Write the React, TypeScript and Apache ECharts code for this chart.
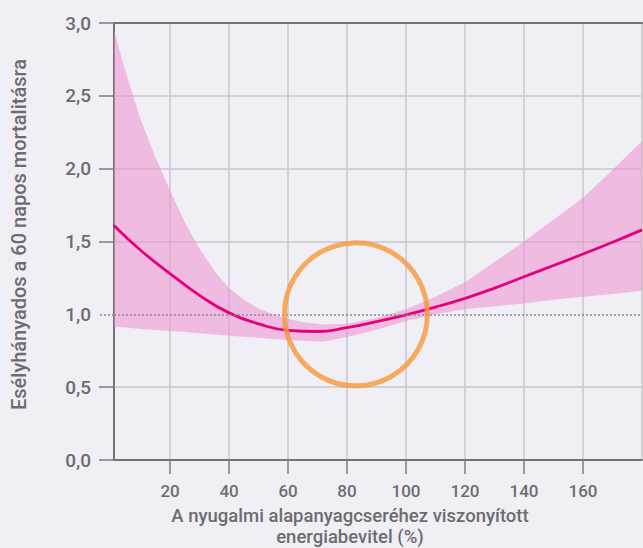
import React, { useEffect, useRef } from "react";
import * as echarts from "echarts";

// Confidence band (odds ratio) sampled along the x axis
const bandX = [1, 5, 10, 15, 20, 25, 30, 35, 40, 45, 50, 55, 60, 65, 72, 80, 90, 100, 110, 120, 130, 140, 150, 160, 170, 180];
const bandLower = [0.915, 0.91, 0.9, 0.893, 0.886, 0.878, 0.87, 0.862, 0.853, 0.846, 0.839, 0.831, 0.824, 0.818, 0.812, 0.845, 0.895, 0.955, 1.0, 1.035, 1.055, 1.075, 1.1, 1.12, 1.14, 1.162];
const bandUpper = [2.95, 2.66, 2.34, 2.08, 1.85, 1.63, 1.45, 1.3, 1.18, 1.1, 1.04, 1.0, 0.97, 0.945, 0.93, 0.935, 0.975, 1.035, 1.12, 1.22, 1.36, 1.5, 1.65, 1.8, 1.99, 2.19];

// Main estimate curve
const lineX = [1, 10, 20, 30, 40, 50, 60, 70, 80, 90, 100, 110, 120, 130, 140, 150, 160, 170, 180];
const lineY = [1.61, 1.44, 1.28, 1.13, 1.01, 0.935, 0.89, 0.882, 0.908, 0.95, 0.997, 1.05, 1.11, 1.18, 1.258, 1.335, 1.414, 1.495, 1.58];

const xTicks = [20, 40, 60, 80, 100, 120, 140, 160];
const yLabelTicks = [0, 0.5, 1, 1.5, 2, 2.5, 3];
const ySolidTicks = [0, 0.5, 1.5, 2, 2.5, 3];
const referenceValue = 1.0;
const highlightPoint = [83, 1.0];

const xAxisTitle = "A nyugalmi alapanyagcseréhez viszonyított\nenergiabevitel (%)";
const yAxisTitle = "Esélyhányados a 60 napos mortalitásra";

const BG = "#f1eff6";
const AXIS = "#737377";
const TICK = "#7c7c80";
const GRID = "#c9c7cd";
const TEXT = "#6c6c70";
const FONT = "Roboto";

export default function App() {
  const ref = useRef<HTMLDivElement>(null);

  useEffect(() => {
    if (!ref.current) return;
    const chart = echarts.init(ref.current, undefined, { renderer: "svg" });

    const lineData = lineX.map((x, i) => [x, lineY[i]]);

    const bandRender = (params: any, api: any) => {
      const upperPts = bandX.map((x, i) => api.coord([x, bandUpper[i]]));
      const lowerPts = bandX
        .map((x, i) => api.coord([x, bandLower[i]]))
        .reverse();
      return {
        type: "polygon",
        shape: { points: upperPts.concat(lowerPts) },
        style: { fill: "rgba(238,140,205,0.52)" },
        silent: true,
      };
    };

    chart.setOption({
      animation: false,
      backgroundColor: BG,
      grid: {
        left: 114,
        right: 1,
        top: 23,
        bottom: 88,
        containLabel: false,
        outerBoundsMode: "none",
      },
      xAxis: [
        {
          type: "value",
          min: 1,
          max: 180,
          position: "bottom",
          name: xAxisTitle,
          nameLocation: "middle",
          nameGap: 45,
          nameTextStyle: {
            color: TEXT,
            fontFamily: FONT,
            fontWeight: 500,
            fontSize: 18.5,
            lineHeight: 21,
            padding: [0, 56, 0, 0],
          },
          axisLine: { show: true, onZero: false, lineStyle: { color: AXIS, width: 2 } },
          axisTick: {
            show: true,
            length: 14,
            customValues: xTicks,
            lineStyle: { color: TICK, width: 1.5 },
          },
          axisLabel: {
            show: true,
            customValues: xTicks,
            margin: 22,
            color: TEXT,
            fontFamily: FONT,
            fontWeight: 500,
            fontSize: 17,
          },
          splitLine: { show: true, lineStyle: { color: GRID, width: 1.5 } },
        },
        {
          type: "value",
          min: 1,
          max: 180,
          position: "top",
          axisLine: { show: true, onZero: false, lineStyle: { color: AXIS, width: 2 } },
          axisTick: { show: false, customValues: [180] },
          axisLabel: { show: false },
          splitLine: { show: true, lineStyle: { color: GRID, width: 1.5 } },
        },
      ],
      yAxis: [
        {
          type: "value",
          min: 0,
          max: 3,
          interval: 0.5,
          position: "left",
          name: yAxisTitle,
          nameLocation: "middle",
          nameGap: 85,
          nameTextStyle: {
            color: TEXT,
            fontFamily: FONT,
            fontWeight: 500,
            fontSize: 20,
            padding: [0, 0, 0, 14],
          },
          axisLine: { show: true, onZero: false, lineStyle: { color: AXIS, width: 2 } },
          axisTick: {
            show: true,
            length: 15,
            customValues: ySolidTicks,
            lineStyle: { color: TICK, width: 1.5 },
          },
          axisLabel: {
            show: true,
            customValues: yLabelTicks,
            margin: 23,
            color: TEXT,
            fontFamily: FONT,
            fontWeight: 500,
            fontSize: 19,
            formatter: (v: number) => v.toFixed(1).replace(".", ","),
          },
          splitLine: { show: true, lineStyle: { color: GRID, width: 1.5 } },
        },
        {
          type: "value",
          min: 0,
          max: 3,
          interval: 0.5,
          position: "left",
          axisLine: { show: false },
          axisTick: {
            show: true,
            length: 15,
            customValues: [referenceValue],
            lineStyle: { color: "#8b8b8f", width: 1.5, type: [2, 2] },
          },
          axisLabel: { show: false },
          splitLine: { show: false },
        },
      ],
      series: [
        {
          type: "custom",
          renderItem: bandRender,
          data: [[bandX[0], bandLower[0]]],
          silent: true,
          z: 2,
          markLine: {
            silent: true,
            symbol: "none",
            label: { show: false },
            lineStyle: { color: "#8b8b8f", width: 1.5, type: [2, 2] },
            data: [{ yAxis: referenceValue }],
          },
        },
        {
          type: "line",
          data: lineData,
          smooth: true,
          symbol: "none",
          silent: true,
          lineStyle: { color: "#e5007e", width: 2.8 },
          z: 3,
        },
        {
          type: "scatter",
          data: [highlightPoint],
          symbol: "circle",
          symbolSize: 143,
          silent: true,
          itemStyle: { color: "rgba(0,0,0,0)", borderColor: "#f7993b", borderWidth: 5 },
          z: 5,
        },
      ],
    });

    return () => chart.dispose();
  }, []);

  return (
    <div
      ref={ref}
      style={{ position: "fixed", left: 0, top: 0, width: 643, height: 548, background: BG }}
    />
  );
}
